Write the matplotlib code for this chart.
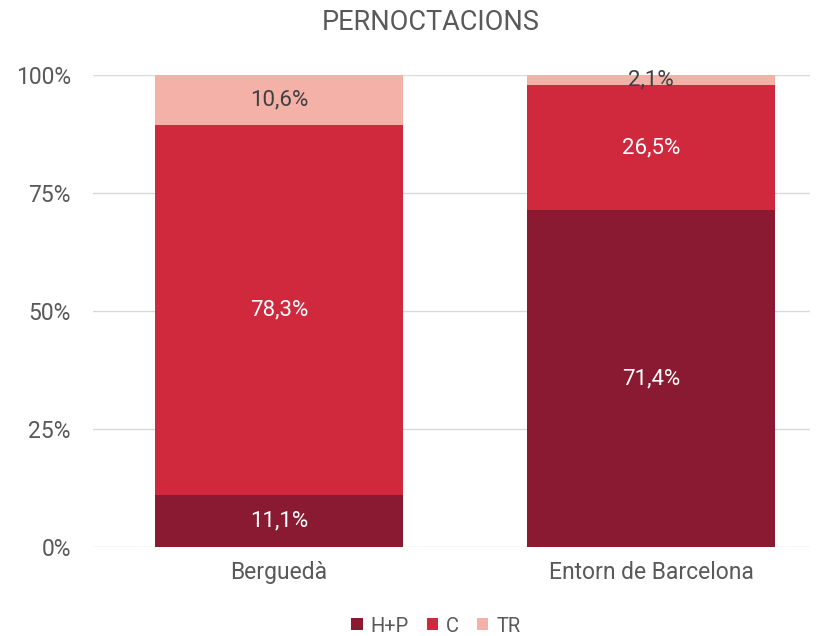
import matplotlib
matplotlib.use("Agg")
import matplotlib.pyplot as plt
from matplotlib.ticker import FixedLocator

plt.rcParams['font.family'] = ['Roboto', 'DejaVu Sans']

categories = ["Berguedà", "Entorn de Barcelona"]
series_names = ["H+P", "C", "TR"]
hp = [11.1, 71.4]
c = [78.3, 26.5]
tr = [10.6, 2.1]
yticks = [0, 25, 50, 75, 100]
ytick_labels = ["0%", "25%", "50%", "75%", "100%"]

colors = ["#8A1A31", "#D0283D", "#F3B1A8"]
text_colors = ["white", "white", "#404040"]

fig = plt.figure(figsize=(8.25, 6.36), dpi=100)
ax = fig.add_axes([93/825, 1-547/636, (810-93)/825, (547-75)/636])

x = list(range(len(categories)))
bottom = [0.0]*len(categories)
for vals, col, tcol, name in zip([hp, c, tr], colors, text_colors, series_names):
    bars = ax.bar(x, vals, bottom=bottom, width=0.667, color=col, label=name, zorder=2)
    for xi, v, b in zip(x, vals, bottom):
        ax.text(xi, b + v/2, f"{v:.1f}%".replace(".", ","), ha="center", va="center",
                color=tcol, fontsize=16, zorder=3)
    bottom = [b + v for b, v in zip(bottom, vals)]

ax.set_xlim(-0.5, 1.427)
ax.set_ylim(0, 100)
ax.yaxis.set_major_locator(FixedLocator(yticks))
ax.set_yticklabels(ytick_labels)
ax.set_xticks(x)
ax.set_xticklabels(categories)
ax.tick_params(axis='both', length=0, labelsize=16.5, colors="#595959")
ax.tick_params(axis='y', pad=16)
ax.tick_params(axis='x', pad=10)
ax.grid(axis='y', color="#D9D9D9", linewidth=1, zorder=0)
for s in ax.spines.values():
    s.set_visible(False)

fig.text(431/825, 1-23/636, "PERNOCTACIONS", ha="center", va="center", fontsize=19.5, color="#595959")

leg = fig.legend(loc="center", bbox_to_anchor=(436/825, 1-626/636), ncol=3, frameon=False,
                 fontsize=14.5, handlelength=0.55, handleheight=0.55, handletextpad=0.4,
                 columnspacing=0.9)
for t in leg.get_texts():
    t.set_color("#595959")

fig.savefig("out.png", dpi=100)
